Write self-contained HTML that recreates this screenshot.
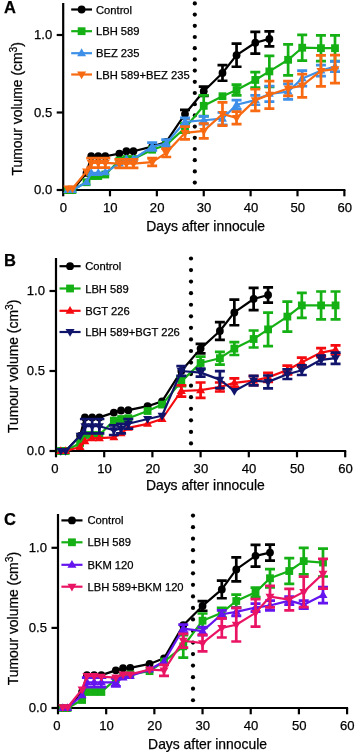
<!DOCTYPE html>
<html><head><meta charset="utf-8"><style>
html,body{margin:0;padding:0;background:#fff;}
svg{display:block;}
text{font-family:"Liberation Sans", sans-serif;}
text{filter:grayscale(1);stroke:#000;stroke-width:0.25px;}
</style></head><body>
<svg width="355" height="752" viewBox="0 0 355 752" font-family='"Liberation Sans", sans-serif'>
<rect width="355" height="752" fill="#fff"/>
<g stroke="#000" stroke-width="2.2" fill="none" stroke-linecap="butt">
<path d="M63.2 3 V190 H345.38"/>
<path d="M56.7 190 H63.2"/>
<path d="M56.7 112.5 H63.2"/>
<path d="M56.7 35 H63.2"/>
<path d="M63.2 190 V196.3"/>
<path d="M109.98 190 V196.3"/>
<path d="M156.86 190 V196.3"/>
<path d="M203.74 190 V196.3"/>
<path d="M250.62 190 V196.3"/>
<path d="M297.5 190 V196.3"/>
<path d="M344.38 190 V196.3"/>
</g>
<g font-size="13.1" fill="#000" text-anchor="end">
<text x="52.2" y="194.1">0.0</text>
<text x="52.2" y="116.6">0.5</text>
<text x="52.2" y="39.1">1.0</text>
</g>
<g font-size="13.1" fill="#000" text-anchor="middle">
<text x="63.5" y="212.3">0</text>
<text x="110.28" y="212.3">10</text>
<text x="157.16" y="212.3">20</text>
<text x="204.04" y="212.3">30</text>
<text x="250.92" y="212.3">40</text>
<text x="297.8" y="212.3">50</text>
<text x="344.68" y="212.3">60</text>
</g>
<text x="146.2" y="230.9" font-size="13.9">Days after innocule</text>
<text transform="translate(21.9 175.4) rotate(-90)" font-size="13.9">Tumour volume (cm<tspan font-size="10.4" dy="-5">3</tspan><tspan dy="5">)</tspan></text>
<text x="4" y="12.5" font-size="16.5" font-weight="bold">A</text>
<g fill="#000"><circle cx="194.8" cy="3.4" r="2.1"/><circle cx="194.8" cy="14.6" r="2.1"/><circle cx="194.8" cy="25.8" r="2.1"/><circle cx="194.8" cy="37" r="2.1"/><circle cx="194.8" cy="48.2" r="2.1"/><circle cx="194.8" cy="59.4" r="2.1"/><circle cx="194.8" cy="70.6" r="2.1"/><circle cx="194.8" cy="81.8" r="2.1"/><circle cx="194.8" cy="93" r="2.1"/><circle cx="194.8" cy="104.2" r="2.1"/><circle cx="194.8" cy="115.4" r="2.1"/><circle cx="194.8" cy="126.6" r="2.1"/><circle cx="194.8" cy="137.8" r="2.1"/><circle cx="194.8" cy="149" r="2.1"/><circle cx="194.8" cy="160.2" r="2.1"/><circle cx="194.8" cy="171.4" r="2.1"/><circle cx="194.8" cy="182.6" r="2.1"/></g>
<g><path d="M67.79 190 L72.48 190 L86.54 172.95 L91.23 156.21 L98.26 156.21 L105.29 156.21 L119.36 153.57 L126.39 151.25 L133.42 151.25 L152.17 146.6 L166.24 141.95 L184.99 114.05 L203.74 91.27 L222.49 72.97 L236.56 55.15 L255.31 42.75 L269.37 38.88" fill="none" stroke="#000000" stroke-width="2.2" stroke-linejoin="round"/><path d="M184.99 109.86 V118.23 M179.99 109.86 H189.99 M179.99 118.23 H189.99 M203.74 86.61 V95.92 M198.74 86.61 H208.74 M198.74 95.92 H208.74 M222.49 65.22 V80.73 M217.49 65.22 H227.49 M217.49 80.73 H227.49 M236.56 43.53 V66.77 M231.56 43.53 H241.56 M231.56 66.77 H241.56 M255.31 31.9 V53.6 M250.31 31.9 H260.31 M250.31 53.6 H260.31 M269.37 31.44 V46.31 M264.37 31.44 H274.37 M264.37 46.31 H274.37" fill="none" stroke="#000000" stroke-width="2.7"/><circle cx="67.79" cy="190" r="3.9" fill="#000000"/><circle cx="72.48" cy="190" r="3.9" fill="#000000"/><circle cx="86.54" cy="172.95" r="3.9" fill="#000000"/><circle cx="91.23" cy="156.21" r="3.9" fill="#000000"/><circle cx="98.26" cy="156.21" r="3.9" fill="#000000"/><circle cx="105.29" cy="156.21" r="3.9" fill="#000000"/><circle cx="119.36" cy="153.57" r="3.9" fill="#000000"/><circle cx="126.39" cy="151.25" r="3.9" fill="#000000"/><circle cx="133.42" cy="151.25" r="3.9" fill="#000000"/><circle cx="152.17" cy="146.6" r="3.9" fill="#000000"/><circle cx="166.24" cy="141.95" r="3.9" fill="#000000"/><circle cx="184.99" cy="114.05" r="3.9" fill="#000000"/><circle cx="203.74" cy="91.27" r="3.9" fill="#000000"/><circle cx="222.49" cy="72.97" r="3.9" fill="#000000"/><circle cx="236.56" cy="55.15" r="3.9" fill="#000000"/><circle cx="255.31" cy="42.75" r="3.9" fill="#000000"/><circle cx="269.37" cy="38.88" r="3.9" fill="#000000"/></g>
<g><path d="M67.79 190 L72.48 190 L86.54 182.25 L91.23 176.05 L98.26 176.05 L105.29 174.5 L119.36 160.55 L126.39 159 L133.42 159 L152.17 149.7 L166.24 145.05 L184.99 128 L203.74 105.83 L222.49 96.23 L236.56 90.02 L255.31 79.95 L269.37 71.42 L288.12 59.8 L302.19 47.71 L320.94 48.17 L335 48.17" fill="none" stroke="#14b014" stroke-width="2.2" stroke-linejoin="round"/><path d="M184.99 123.35 V132.65 M179.99 123.35 H189.99 M179.99 132.65 H189.99 M203.74 95.45 V116.22 M198.74 95.45 H208.74 M198.74 116.22 H208.74 M236.56 84.6 V95.45 M231.56 84.6 H241.56 M231.56 95.45 H241.56 M255.31 72.2 V87.7 M250.31 72.2 H260.31 M250.31 87.7 H260.31 M269.37 55.93 V86.92 M264.37 55.93 H274.37 M264.37 86.92 H274.37 M288.12 44.3 V75.3 M283.12 44.3 H293.12 M283.12 75.3 H293.12 M302.19 34.84 V60.57 M297.19 34.84 H307.19 M297.19 60.57 H307.19 M320.94 35.31 V61.04 M315.94 35.31 H325.94 M315.94 61.04 H325.94 M335 35.31 V61.04 M330 35.31 H340 M330 61.04 H340" fill="none" stroke="#14b014" stroke-width="2.7"/><rect x="63.89" y="186.1" width="7.8" height="7.8" fill="#14b014"/><rect x="68.58" y="186.1" width="7.8" height="7.8" fill="#14b014"/><rect x="82.64" y="178.35" width="7.8" height="7.8" fill="#14b014"/><rect x="87.33" y="172.15" width="7.8" height="7.8" fill="#14b014"/><rect x="94.36" y="172.15" width="7.8" height="7.8" fill="#14b014"/><rect x="101.39" y="170.6" width="7.8" height="7.8" fill="#14b014"/><rect x="115.46" y="156.65" width="7.8" height="7.8" fill="#14b014"/><rect x="122.49" y="155.1" width="7.8" height="7.8" fill="#14b014"/><rect x="129.52" y="155.1" width="7.8" height="7.8" fill="#14b014"/><rect x="148.27" y="145.8" width="7.8" height="7.8" fill="#14b014"/><rect x="162.34" y="141.15" width="7.8" height="7.8" fill="#14b014"/><rect x="181.09" y="124.1" width="7.8" height="7.8" fill="#14b014"/><rect x="199.84" y="101.93" width="7.8" height="7.8" fill="#14b014"/><rect x="218.59" y="92.33" width="7.8" height="7.8" fill="#14b014"/><rect x="232.66" y="86.12" width="7.8" height="7.8" fill="#14b014"/><rect x="251.41" y="76.05" width="7.8" height="7.8" fill="#14b014"/><rect x="265.47" y="67.52" width="7.8" height="7.8" fill="#14b014"/><rect x="284.22" y="55.9" width="7.8" height="7.8" fill="#14b014"/><rect x="298.29" y="43.81" width="7.8" height="7.8" fill="#14b014"/><rect x="317.04" y="44.27" width="7.8" height="7.8" fill="#14b014"/><rect x="331.1" y="44.27" width="7.8" height="7.8" fill="#14b014"/></g>
<g><path d="M67.79 190 L72.48 190 L86.54 182.25 L91.23 172.95 L98.26 172.95 L105.29 172.33 L119.36 163.65 L126.39 159 L133.42 159 L152.17 146.6 L166.24 143.5 L184.99 121.8 L203.74 120.25 L222.49 118.7 L236.56 104.75 L255.31 100.1 L269.37 93.9 L288.12 91.58 L302.19 78.4 L320.94 70.65 L335 66.46" fill="none" stroke="#3d8fe8" stroke-width="2.2" stroke-linejoin="round"/><path d="M152.17 142.72 V150.47 M147.17 142.72 H157.17 M147.17 150.47 H157.17 M166.24 139.62 V147.38 M161.24 139.62 H171.24 M161.24 147.38 H171.24 M184.99 117.92 V125.67 M179.99 117.92 H189.99 M179.99 125.67 H189.99 M203.74 116.38 V124.12 M198.74 116.38 H208.74 M198.74 124.12 H208.74 M222.49 112.5 V124.9 M217.49 112.5 H227.49 M217.49 124.9 H227.49 M236.56 100.1 V109.4 M231.56 100.1 H241.56 M231.56 109.4 H241.56 M255.31 95.45 V104.75 M250.31 95.45 H260.31 M250.31 104.75 H260.31 M269.37 86.15 V101.65 M264.37 86.15 H274.37 M264.37 101.65 H274.37 M288.12 83.82 V99.33 M283.12 83.82 H293.12 M283.12 99.33 H293.12 M302.19 70.65 V86.15 M297.19 70.65 H307.19 M297.19 86.15 H307.19 M320.94 65.22 V76.08 M315.94 65.22 H325.94 M315.94 76.08 H325.94 M335 61.35 V71.58 M330 61.35 H340 M330 71.58 H340" fill="none" stroke="#3d8fe8" stroke-width="2.7"/><polygon points="67.79,185.16 63.29,192.96 72.29,192.96" fill="#3d8fe8"/><polygon points="72.48,185.16 67.98,192.96 76.98,192.96" fill="#3d8fe8"/><polygon points="86.54,177.41 82.04,185.21 91.04,185.21" fill="#3d8fe8"/><polygon points="91.23,168.11 86.73,175.91 95.73,175.91" fill="#3d8fe8"/><polygon points="98.26,168.11 93.76,175.91 102.76,175.91" fill="#3d8fe8"/><polygon points="105.29,167.49 100.79,175.29 109.79,175.29" fill="#3d8fe8"/><polygon points="119.36,158.81 114.86,166.61 123.86,166.61" fill="#3d8fe8"/><polygon points="126.39,154.16 121.89,161.96 130.89,161.96" fill="#3d8fe8"/><polygon points="133.42,154.16 128.92,161.96 137.92,161.96" fill="#3d8fe8"/><polygon points="152.17,141.76 147.67,149.56 156.67,149.56" fill="#3d8fe8"/><polygon points="166.24,138.66 161.74,146.46 170.74,146.46" fill="#3d8fe8"/><polygon points="184.99,116.96 180.49,124.76 189.49,124.76" fill="#3d8fe8"/><polygon points="203.74,115.41 199.24,123.21 208.24,123.21" fill="#3d8fe8"/><polygon points="222.49,113.86 217.99,121.66 226.99,121.66" fill="#3d8fe8"/><polygon points="236.56,99.91 232.06,107.71 241.06,107.71" fill="#3d8fe8"/><polygon points="255.31,95.26 250.81,103.06 259.81,103.06" fill="#3d8fe8"/><polygon points="269.37,89.06 264.87,96.86 273.87,96.86" fill="#3d8fe8"/><polygon points="288.12,86.74 283.62,94.54 292.62,94.54" fill="#3d8fe8"/><polygon points="302.19,73.56 297.69,81.36 306.69,81.36" fill="#3d8fe8"/><polygon points="320.94,65.81 316.44,73.61 325.44,73.61" fill="#3d8fe8"/><polygon points="335,61.63 330.5,69.43 339.5,69.43" fill="#3d8fe8"/></g>
<g><path d="M67.79 188.45 L72.48 188.45 L86.54 171.4 L91.23 162.88 L98.26 162.88 L105.29 162.88 L119.36 163.65 L126.39 163.65 L133.42 163.65 L152.17 162.1 L166.24 152.8 L184.99 132.96 L203.74 130.94 L222.49 114.05 L236.56 117.92 L255.31 100.1 L269.37 94.83 L288.12 88.47 L302.19 85.68 L320.94 70.96 L335 69.1" fill="none" stroke="#f76a12" stroke-width="2.2" stroke-linejoin="round"/><path d="M91.23 158.22 V167.53 M86.23 158.22 H96.23 M86.23 167.53 H96.23 M98.26 158.22 V167.53 M93.26 158.22 H103.26 M93.26 167.53 H103.26 M105.29 158.22 V167.53 M100.29 158.22 H110.29 M100.29 167.53 H110.29 M119.36 159.47 V167.84 M114.36 159.47 H124.36 M114.36 167.84 H124.36 M126.39 159.47 V167.84 M121.39 159.47 H131.39 M121.39 167.84 H131.39 M133.42 159.47 V167.84 M128.42 159.47 H138.42 M128.42 167.84 H138.42 M152.17 158.22 V165.97 M147.17 158.22 H157.17 M147.17 165.97 H157.17 M166.24 148.62 V156.99 M161.24 148.62 H171.24 M161.24 156.99 H171.24 M184.99 126.61 V139.31 M179.99 126.61 H189.99 M179.99 139.31 H189.99 M203.74 123.5 V138.38 M198.74 123.5 H208.74 M198.74 138.38 H208.74 M222.49 102.43 V125.67 M217.49 102.43 H227.49 M217.49 125.67 H227.49 M236.56 111.72 V124.12 M231.56 111.72 H241.56 M231.56 124.12 H241.56 M255.31 89.25 V110.95 M250.31 89.25 H260.31 M250.31 110.95 H260.31 M269.37 81.04 V108.62 M264.37 81.04 H274.37 M264.37 108.62 H274.37 M288.12 81.03 V95.92 M283.12 81.03 H293.12 M283.12 95.92 H293.12 M302.19 74.06 V97.31 M297.19 74.06 H307.19 M297.19 97.31 H307.19 M320.94 55.46 V86.46 M315.94 55.46 H325.94 M315.94 86.46 H325.94 M335 55.15 V83.05 M330 55.15 H340 M330 83.05 H340" fill="none" stroke="#f76a12" stroke-width="2.7"/><polygon points="67.79,193.29 63.29,185.49 72.29,185.49" fill="#f76a12"/><polygon points="72.48,193.29 67.98,185.49 76.98,185.49" fill="#f76a12"/><polygon points="86.54,176.24 82.04,168.44 91.04,168.44" fill="#f76a12"/><polygon points="91.23,167.71 86.73,159.91 95.73,159.91" fill="#f76a12"/><polygon points="98.26,167.71 93.76,159.91 102.76,159.91" fill="#f76a12"/><polygon points="105.29,167.71 100.79,159.91 109.79,159.91" fill="#f76a12"/><polygon points="119.36,168.49 114.86,160.69 123.86,160.69" fill="#f76a12"/><polygon points="126.39,168.49 121.89,160.69 130.89,160.69" fill="#f76a12"/><polygon points="133.42,168.49 128.92,160.69 137.92,160.69" fill="#f76a12"/><polygon points="152.17,166.94 147.67,159.14 156.67,159.14" fill="#f76a12"/><polygon points="166.24,157.64 161.74,149.84 170.74,149.84" fill="#f76a12"/><polygon points="184.99,137.8 180.49,130 189.49,130" fill="#f76a12"/><polygon points="203.74,135.78 199.24,127.98 208.24,127.98" fill="#f76a12"/><polygon points="222.49,118.89 217.99,111.09 226.99,111.09" fill="#f76a12"/><polygon points="236.56,122.76 232.06,114.96 241.06,114.96" fill="#f76a12"/><polygon points="255.31,104.94 250.81,97.14 259.81,97.14" fill="#f76a12"/><polygon points="269.37,99.67 264.87,91.87 273.87,91.87" fill="#f76a12"/><polygon points="288.12,93.31 283.62,85.51 292.62,85.51" fill="#f76a12"/><polygon points="302.19,90.52 297.69,82.72 306.69,82.72" fill="#f76a12"/><polygon points="320.94,75.8 316.44,68 325.44,68" fill="#f76a12"/><polygon points="335,73.94 330.5,66.14 339.5,66.14" fill="#f76a12"/></g>
<path d="M71.2 9.5 H92" stroke="#000000" stroke-width="2.2"/>
<circle cx="81.6" cy="9.5" r="3.9" fill="#000000"/>
<text x="96" y="13.5" font-size="11.2">Control</text>
<path d="M71.2 31.2 H92" stroke="#14b014" stroke-width="2.2"/>
<rect x="77.7" y="27.3" width="7.8" height="7.8" fill="#14b014"/>
<text x="96" y="35.2" font-size="11.2">LBH 589</text>
<path d="M71.2 53.2 H92" stroke="#3d8fe8" stroke-width="2.2"/>
<polygon points="81.6,48.36 77.1,56.16 86.1,56.16" fill="#3d8fe8"/>
<text x="96" y="57.2" font-size="11.2">BEZ 235</text>
<path d="M71.2 74.5 H92" stroke="#f76a12" stroke-width="2.2"/>
<polygon points="81.6,79.34 77.1,71.54 86.1,71.54" fill="#f76a12"/>
<text x="96" y="78.5" font-size="11.2">LBH 589+BEZ 235</text>
<g stroke="#000" stroke-width="2.2" fill="none" stroke-linecap="butt">
<path d="M56 258 V451 H346.2"/>
<path d="M49.5 451 H56"/>
<path d="M49.5 371 H56"/>
<path d="M49.5 291 H56"/>
<path d="M56 451 V457.3"/>
<path d="M104.2 451 V457.3"/>
<path d="M152.4 451 V457.3"/>
<path d="M200.6 451 V457.3"/>
<path d="M248.8 451 V457.3"/>
<path d="M297 451 V457.3"/>
<path d="M345.2 451 V457.3"/>
</g>
<g font-size="13.1" fill="#000" text-anchor="end">
<text x="45" y="455.1">0.0</text>
<text x="45" y="375.1">0.5</text>
<text x="45" y="295.1">1.0</text>
</g>
<g font-size="13.1" fill="#000" text-anchor="middle">
<text x="54.9" y="473.3">0</text>
<text x="104.5" y="473.3">10</text>
<text x="152.7" y="473.3">20</text>
<text x="200.9" y="473.3">30</text>
<text x="249.1" y="473.3">40</text>
<text x="297.3" y="473.3">50</text>
<text x="345.5" y="473.3">60</text>
</g>
<text x="145.9" y="489.8" font-size="13.9">Days after innocule</text>
<text transform="translate(18.3 433) rotate(-90)" font-size="13.9">Tumour volume (cm<tspan font-size="10.4" dy="-5">3</tspan><tspan dy="5">)</tspan></text>
<text x="4" y="266.3" font-size="16.5" font-weight="bold">B</text>
<g fill="#000"><circle cx="191" cy="258.5" r="2.1"/><circle cx="191" cy="270.06" r="2.1"/><circle cx="191" cy="281.62" r="2.1"/><circle cx="191" cy="293.18" r="2.1"/><circle cx="191" cy="304.74" r="2.1"/><circle cx="191" cy="316.3" r="2.1"/><circle cx="191" cy="327.86" r="2.1"/><circle cx="191" cy="339.42" r="2.1"/><circle cx="191" cy="350.98" r="2.1"/><circle cx="191" cy="362.54" r="2.1"/><circle cx="191" cy="374.1" r="2.1"/><circle cx="191" cy="385.66" r="2.1"/><circle cx="191" cy="397.22" r="2.1"/><circle cx="191" cy="408.78" r="2.1"/><circle cx="191" cy="420.34" r="2.1"/><circle cx="191" cy="431.9" r="2.1"/><circle cx="191" cy="443.46" r="2.1"/></g>
<g><path d="M60.82 451 L65.64 451 L80.1 435.8 L84.92 417.4 L92.15 417.4 L99.38 417.4 L113.84 412.6 L121.07 410.52 L128.3 410.2 L147.58 406.2 L162.04 401.4 L181.32 371 L200.6 348.6 L219.88 331 L234.34 312.44 L253.62 299 L268.08 295" fill="none" stroke="#000000" stroke-width="2.2" stroke-linejoin="round"/><path d="M200.6 343.8 V353.4 M195.6 343.8 H205.6 M195.6 353.4 H205.6 M219.88 322.2 V339.8 M214.88 322.2 H224.88 M214.88 339.8 H224.88 M234.34 299.64 V325.24 M229.34 299.64 H239.34 M229.34 325.24 H239.34 M253.62 287.8 V310.2 M248.62 287.8 H258.62 M248.62 310.2 H258.62 M268.08 287.32 V302.68 M263.08 287.32 H273.08 M263.08 302.68 H273.08" fill="none" stroke="#000000" stroke-width="2.7"/><circle cx="60.82" cy="451" r="3.9" fill="#000000"/><circle cx="65.64" cy="451" r="3.9" fill="#000000"/><circle cx="80.1" cy="435.8" r="3.9" fill="#000000"/><circle cx="84.92" cy="417.4" r="3.9" fill="#000000"/><circle cx="92.15" cy="417.4" r="3.9" fill="#000000"/><circle cx="99.38" cy="417.4" r="3.9" fill="#000000"/><circle cx="113.84" cy="412.6" r="3.9" fill="#000000"/><circle cx="121.07" cy="410.52" r="3.9" fill="#000000"/><circle cx="128.3" cy="410.2" r="3.9" fill="#000000"/><circle cx="147.58" cy="406.2" r="3.9" fill="#000000"/><circle cx="162.04" cy="401.4" r="3.9" fill="#000000"/><circle cx="181.32" cy="371" r="3.9" fill="#000000"/><circle cx="200.6" cy="348.6" r="3.9" fill="#000000"/><circle cx="219.88" cy="331" r="3.9" fill="#000000"/><circle cx="234.34" cy="312.44" r="3.9" fill="#000000"/><circle cx="253.62" cy="299" r="3.9" fill="#000000"/><circle cx="268.08" cy="295" r="3.9" fill="#000000"/></g>
<g><path d="M60.82 451 L65.64 451 L80.1 443 L84.92 435 L92.15 435 L99.38 435 L113.84 420.6 L121.07 419 L128.3 418.2 L147.58 411 L162.04 404.6 L181.32 381.4 L200.6 363 L219.88 358.2 L234.34 348.6 L253.62 339 L268.08 329.4 L287.36 316.6 L301.82 305.4 L321.1 305.4 L335.56 305.4" fill="none" stroke="#14b014" stroke-width="2.2" stroke-linejoin="round"/><path d="M181.32 376.6 V386.2 M176.32 376.6 H186.32 M176.32 386.2 H186.32 M200.6 356.6 V369.4 M195.6 356.6 H205.6 M195.6 369.4 H205.6 M219.88 351.8 V364.6 M214.88 351.8 H224.88 M214.88 364.6 H224.88 M234.34 342.2 V355 M229.34 342.2 H239.34 M229.34 355 H239.34 M253.62 330.52 V347.48 M248.62 330.52 H258.62 M248.62 347.48 H258.62 M268.08 312.6 V346.2 M263.08 312.6 H273.08 M263.08 346.2 H273.08 M287.36 301.56 V331.64 M282.36 301.56 H292.36 M282.36 331.64 H292.36 M301.82 292.92 V317.88 M296.82 292.92 H306.82 M296.82 317.88 H306.82 M321.1 291.48 V319.32 M316.1 291.48 H326.1 M316.1 319.32 H326.1 M335.56 291.48 V319.32 M330.56 291.48 H340.56 M330.56 319.32 H340.56" fill="none" stroke="#14b014" stroke-width="2.7"/><rect x="56.92" y="447.1" width="7.8" height="7.8" fill="#14b014"/><rect x="61.74" y="447.1" width="7.8" height="7.8" fill="#14b014"/><rect x="76.2" y="439.1" width="7.8" height="7.8" fill="#14b014"/><rect x="81.02" y="431.1" width="7.8" height="7.8" fill="#14b014"/><rect x="88.25" y="431.1" width="7.8" height="7.8" fill="#14b014"/><rect x="95.48" y="431.1" width="7.8" height="7.8" fill="#14b014"/><rect x="109.94" y="416.7" width="7.8" height="7.8" fill="#14b014"/><rect x="117.17" y="415.1" width="7.8" height="7.8" fill="#14b014"/><rect x="124.4" y="414.3" width="7.8" height="7.8" fill="#14b014"/><rect x="143.68" y="407.1" width="7.8" height="7.8" fill="#14b014"/><rect x="158.14" y="400.7" width="7.8" height="7.8" fill="#14b014"/><rect x="177.42" y="377.5" width="7.8" height="7.8" fill="#14b014"/><rect x="196.7" y="359.1" width="7.8" height="7.8" fill="#14b014"/><rect x="215.98" y="354.3" width="7.8" height="7.8" fill="#14b014"/><rect x="230.44" y="344.7" width="7.8" height="7.8" fill="#14b014"/><rect x="249.72" y="335.1" width="7.8" height="7.8" fill="#14b014"/><rect x="264.18" y="325.5" width="7.8" height="7.8" fill="#14b014"/><rect x="283.46" y="312.7" width="7.8" height="7.8" fill="#14b014"/><rect x="297.92" y="301.5" width="7.8" height="7.8" fill="#14b014"/><rect x="317.2" y="301.5" width="7.8" height="7.8" fill="#14b014"/><rect x="331.66" y="301.5" width="7.8" height="7.8" fill="#14b014"/></g>
<g><path d="M60.82 451 L65.64 451 L80.1 447 L84.92 441.4 L92.15 438.2 L99.38 438.2 L113.84 437.4 L121.07 433.4 L128.3 427.8 L147.58 423.8 L162.04 419 L181.32 391 L200.6 390.2 L219.88 387 L234.34 382.84 L253.62 380.6 L268.08 377.4 L287.36 370.04 L301.82 362.2 L321.1 352.6 L335.56 349.88" fill="none" stroke="#f50a0f" stroke-width="2.2" stroke-linejoin="round"/><path d="M181.32 385.4 V396.6 M176.32 385.4 H186.32 M176.32 396.6 H186.32 M200.6 382.52 V397.88 M195.6 382.52 H205.6 M195.6 397.88 H205.6 M219.88 382.52 V391.48 M214.88 382.52 H224.88 M214.88 391.48 H224.88 M234.34 378.36 V387.32 M229.34 378.36 H239.34 M229.34 387.32 H239.34 M253.62 376.12 V385.08 M248.62 376.12 H258.62 M248.62 385.08 H258.62 M268.08 372.92 V381.88 M263.08 372.92 H273.08 M263.08 381.88 H273.08 M287.36 365.56 V374.52 M282.36 365.56 H292.36 M282.36 374.52 H292.36 M301.82 357.72 V366.68 M296.82 357.72 H306.82 M296.82 366.68 H306.82 M321.1 348.12 V357.08 M316.1 348.12 H326.1 M316.1 357.08 H326.1 M335.56 345.4 V354.36 M330.56 345.4 H340.56 M330.56 354.36 H340.56" fill="none" stroke="#f50a0f" stroke-width="2.7"/><polygon points="60.82,446.16 56.32,453.96 65.32,453.96" fill="#f50a0f"/><polygon points="65.64,446.16 61.14,453.96 70.14,453.96" fill="#f50a0f"/><polygon points="80.1,442.16 75.6,449.96 84.6,449.96" fill="#f50a0f"/><polygon points="84.92,436.56 80.42,444.36 89.42,444.36" fill="#f50a0f"/><polygon points="92.15,433.36 87.65,441.16 96.65,441.16" fill="#f50a0f"/><polygon points="99.38,433.36 94.88,441.16 103.88,441.16" fill="#f50a0f"/><polygon points="113.84,432.56 109.34,440.36 118.34,440.36" fill="#f50a0f"/><polygon points="121.07,428.56 116.57,436.36 125.57,436.36" fill="#f50a0f"/><polygon points="128.3,422.96 123.8,430.76 132.8,430.76" fill="#f50a0f"/><polygon points="147.58,418.96 143.08,426.76 152.08,426.76" fill="#f50a0f"/><polygon points="162.04,414.16 157.54,421.96 166.54,421.96" fill="#f50a0f"/><polygon points="181.32,386.16 176.82,393.96 185.82,393.96" fill="#f50a0f"/><polygon points="200.6,385.36 196.1,393.16 205.1,393.16" fill="#f50a0f"/><polygon points="219.88,382.16 215.38,389.96 224.38,389.96" fill="#f50a0f"/><polygon points="234.34,378 229.84,385.8 238.84,385.8" fill="#f50a0f"/><polygon points="253.62,375.76 249.12,383.56 258.12,383.56" fill="#f50a0f"/><polygon points="268.08,372.56 263.58,380.36 272.58,380.36" fill="#f50a0f"/><polygon points="287.36,365.2 282.86,373 291.86,373" fill="#f50a0f"/><polygon points="301.82,357.36 297.32,365.16 306.32,365.16" fill="#f50a0f"/><polygon points="321.1,347.76 316.6,355.56 325.6,355.56" fill="#f50a0f"/><polygon points="335.56,345.04 331.06,352.84 340.06,352.84" fill="#f50a0f"/></g>
<g><path d="M60.82 451 L65.64 451 L80.1 435.8 L84.92 426.2 L92.15 426.2 L99.38 426.2 L113.84 430.2 L121.07 428.6 L128.3 423.8 L147.58 419 L162.04 415.8 L181.32 371 L200.6 372.6 L219.88 379.64 L234.34 391 L253.62 380.6 L268.08 381.88 L287.36 374.2 L301.82 370.2 L321.1 359.8 L335.56 358.2" fill="none" stroke="#10146b" stroke-width="2.2" stroke-linejoin="round"/><path d="M84.92 419 V433.4 M79.92 419 H89.92 M79.92 433.4 H89.92 M92.15 419 V433.4 M87.15 419 H97.15 M87.15 433.4 H97.15 M99.38 419 V433.4 M94.38 419 H104.38 M94.38 433.4 H104.38 M113.84 425.4 V435 M108.84 425.4 H118.84 M108.84 435 H118.84 M121.07 423.8 V433.4 M116.07 423.8 H126.07 M116.07 433.4 H126.07 M128.3 419 V428.6 M123.3 419 H133.3 M123.3 428.6 H133.3 M181.32 366.2 V375.8 M176.32 366.2 H186.32 M176.32 375.8 H186.32 M200.6 368.6 V376.6 M195.6 368.6 H205.6 M195.6 376.6 H205.6 M219.88 371.16 V388.12 M214.88 371.16 H224.88 M214.88 388.12 H224.88 M253.62 375.8 V385.4 M248.62 375.8 H258.62 M248.62 385.4 H258.62 M268.08 375.48 V388.28 M263.08 375.48 H273.08 M263.08 388.28 H273.08 M287.36 369.4 V379 M282.36 369.4 H292.36 M282.36 379 H292.36 M301.82 365.4 V375 M296.82 365.4 H306.82 M296.82 375 H306.82 M321.1 355.48 V364.12 M316.1 355.48 H326.1 M316.1 364.12 H326.1 M335.56 352.6 V363.8 M330.56 352.6 H340.56 M330.56 363.8 H340.56" fill="none" stroke="#10146b" stroke-width="2.7"/><polygon points="60.82,455.84 56.32,448.04 65.32,448.04" fill="#10146b"/><polygon points="65.64,455.84 61.14,448.04 70.14,448.04" fill="#10146b"/><polygon points="80.1,440.64 75.6,432.84 84.6,432.84" fill="#10146b"/><polygon points="84.92,431.04 80.42,423.24 89.42,423.24" fill="#10146b"/><polygon points="92.15,431.04 87.65,423.24 96.65,423.24" fill="#10146b"/><polygon points="99.38,431.04 94.88,423.24 103.88,423.24" fill="#10146b"/><polygon points="113.84,435.04 109.34,427.24 118.34,427.24" fill="#10146b"/><polygon points="121.07,433.44 116.57,425.64 125.57,425.64" fill="#10146b"/><polygon points="128.3,428.64 123.8,420.84 132.8,420.84" fill="#10146b"/><polygon points="147.58,423.84 143.08,416.04 152.08,416.04" fill="#10146b"/><polygon points="162.04,420.64 157.54,412.84 166.54,412.84" fill="#10146b"/><polygon points="181.32,375.84 176.82,368.04 185.82,368.04" fill="#10146b"/><polygon points="200.6,377.44 196.1,369.64 205.1,369.64" fill="#10146b"/><polygon points="219.88,384.48 215.38,376.68 224.38,376.68" fill="#10146b"/><polygon points="234.34,395.84 229.84,388.04 238.84,388.04" fill="#10146b"/><polygon points="253.62,385.44 249.12,377.64 258.12,377.64" fill="#10146b"/><polygon points="268.08,386.72 263.58,378.92 272.58,378.92" fill="#10146b"/><polygon points="287.36,379.04 282.86,371.24 291.86,371.24" fill="#10146b"/><polygon points="301.82,375.04 297.32,367.24 306.32,367.24" fill="#10146b"/><polygon points="321.1,364.64 316.6,356.84 325.6,356.84" fill="#10146b"/><polygon points="335.56,363.04 331.06,355.24 340.06,355.24" fill="#10146b"/></g>
<path d="M59.5 266.2 H80.6" stroke="#000000" stroke-width="2.2"/>
<circle cx="70.05" cy="266.2" r="3.9" fill="#000000"/>
<text x="85.2" y="270.2" font-size="11.2">Control</text>
<path d="M59.5 288.5 H80.6" stroke="#14b014" stroke-width="2.2"/>
<rect x="66.15" y="284.6" width="7.8" height="7.8" fill="#14b014"/>
<text x="85.2" y="292.5" font-size="11.2">LBH 589</text>
<path d="M59.5 310.8 H80.6" stroke="#f50a0f" stroke-width="2.2"/>
<polygon points="70.05,305.96 65.55,313.76 74.55,313.76" fill="#f50a0f"/>
<text x="85.2" y="314.8" font-size="11.2">BGT 226</text>
<path d="M59.5 332 H80.6" stroke="#10146b" stroke-width="2.2"/>
<polygon points="70.05,336.84 65.55,329.04 74.55,329.04" fill="#10146b"/>
<text x="85.2" y="336" font-size="11.2">LBH 589+BGT 226</text>
<g stroke="#000" stroke-width="2.2" fill="none" stroke-linecap="butt">
<path d="M58 514 V708 H348.08"/>
<path d="M51.5 708 H58"/>
<path d="M51.5 627.9 H58"/>
<path d="M51.5 547.8 H58"/>
<path d="M58 708 V714.3"/>
<path d="M106.18 708 V714.3"/>
<path d="M154.36 708 V714.3"/>
<path d="M202.54 708 V714.3"/>
<path d="M250.72 708 V714.3"/>
<path d="M298.9 708 V714.3"/>
<path d="M347.08 708 V714.3"/>
</g>
<g font-size="13.1" fill="#000" text-anchor="end">
<text x="47" y="712.1">0.0</text>
<text x="47" y="632">0.5</text>
<text x="47" y="551.9">1.0</text>
</g>
<g font-size="13.1" fill="#000" text-anchor="middle">
<text x="56.9" y="730.3">0</text>
<text x="106.48" y="730.3">10</text>
<text x="154.66" y="730.3">20</text>
<text x="202.84" y="730.3">30</text>
<text x="251.02" y="730.3">40</text>
<text x="299.2" y="730.3">50</text>
<text x="347.38" y="730.3">60</text>
</g>
<text x="148.1" y="748.8" font-size="13.9">Days after innocule</text>
<text transform="translate(18.3 685.3) rotate(-90)" font-size="13.9">Tumour volume (cm<tspan font-size="10.4" dy="-5">3</tspan><tspan dy="5">)</tspan></text>
<text x="4" y="524.8" font-size="16.5" font-weight="bold">C</text>
<g fill="#000"><circle cx="193" cy="515.6" r="2.1"/><circle cx="193" cy="527.14" r="2.1"/><circle cx="193" cy="538.68" r="2.1"/><circle cx="193" cy="550.22" r="2.1"/><circle cx="193" cy="561.76" r="2.1"/><circle cx="193" cy="573.3" r="2.1"/><circle cx="193" cy="584.84" r="2.1"/><circle cx="193" cy="596.38" r="2.1"/><circle cx="193" cy="607.92" r="2.1"/><circle cx="193" cy="619.46" r="2.1"/><circle cx="193" cy="631" r="2.1"/><circle cx="193" cy="642.54" r="2.1"/><circle cx="193" cy="654.08" r="2.1"/><circle cx="193" cy="665.62" r="2.1"/><circle cx="193" cy="677.16" r="2.1"/><circle cx="193" cy="688.7" r="2.1"/><circle cx="193" cy="700.24" r="2.1"/></g>
<g><path d="M62.82 708 L67.64 708 L82.09 691.98 L86.91 675.16 L94.13 675.16 L101.36 675.16 L115.82 670.35 L123.04 668.27 L130.27 667.95 L149.54 663.95 L164 658.34 L183.27 625.18 L202.54 605.95 L221.81 589.45 L236.27 569.43 L255.54 555.81 L269.99 552.61" fill="none" stroke="#000000" stroke-width="2.2" stroke-linejoin="round"/><path d="M202.54 601.15 V610.76 M197.54 601.15 H207.54 M197.54 610.76 H207.54 M221.81 580.64 V598.26 M216.81 580.64 H226.81 M216.81 598.26 H226.81 M236.27 557.41 V581.44 M231.27 557.41 H241.27 M231.27 581.44 H241.27 M255.54 544.92 V566.7 M250.54 544.92 H260.54 M250.54 566.7 H260.54 M269.99 544.6 V560.62 M264.99 544.6 H274.99 M264.99 560.62 H274.99" fill="none" stroke="#000000" stroke-width="2.7"/><circle cx="62.82" cy="708" r="3.9" fill="#000000"/><circle cx="67.64" cy="708" r="3.9" fill="#000000"/><circle cx="82.09" cy="691.98" r="3.9" fill="#000000"/><circle cx="86.91" cy="675.16" r="3.9" fill="#000000"/><circle cx="94.13" cy="675.16" r="3.9" fill="#000000"/><circle cx="101.36" cy="675.16" r="3.9" fill="#000000"/><circle cx="115.82" cy="670.35" r="3.9" fill="#000000"/><circle cx="123.04" cy="668.27" r="3.9" fill="#000000"/><circle cx="130.27" cy="667.95" r="3.9" fill="#000000"/><circle cx="149.54" cy="663.95" r="3.9" fill="#000000"/><circle cx="164" cy="658.34" r="3.9" fill="#000000"/><circle cx="183.27" cy="625.18" r="3.9" fill="#000000"/><circle cx="202.54" cy="605.95" r="3.9" fill="#000000"/><circle cx="221.81" cy="589.45" r="3.9" fill="#000000"/><circle cx="236.27" cy="569.43" r="3.9" fill="#000000"/><circle cx="255.54" cy="555.81" r="3.9" fill="#000000"/><circle cx="269.99" cy="552.61" r="3.9" fill="#000000"/></g>
<g><path d="M62.82 708 L67.64 708 L82.09 699.99 L86.91 691.98 L94.13 691.98 L101.36 691.98 L115.82 679.16 L123.04 675.96 L130.27 674.36 L149.54 671.15 L164 661.54 L183.27 646.32 L202.54 620.69 L221.81 612.68 L236.27 600.99 L255.54 592.34 L269.99 578.24 L289.26 571.03 L303.72 561.1 L322.99 562.54" fill="none" stroke="#14b014" stroke-width="2.2" stroke-linejoin="round"/><path d="M183.27 635.11 V657.54 M178.27 635.11 H188.27 M178.27 657.54 H188.27 M202.54 613.48 V627.9 M197.54 613.48 H207.54 M197.54 627.9 H207.54 M221.81 607.88 V617.49 M216.81 607.88 H226.81 M216.81 617.49 H226.81 M236.27 594.58 V607.39 M231.27 594.58 H241.27 M231.27 607.39 H241.27 M255.54 587.53 V597.14 M250.54 587.53 H260.54 M250.54 597.14 H260.54 M269.99 569.11 V587.37 M264.99 569.11 H274.99 M264.99 587.37 H274.99 M289.26 558.21 V583.85 M284.26 558.21 H294.26 M284.26 583.85 H294.26 M303.72 547.8 V574.39 M298.72 547.8 H308.72 M298.72 574.39 H308.72 M322.99 548.6 V576.48 M317.99 548.6 H327.99 M317.99 576.48 H327.99" fill="none" stroke="#14b014" stroke-width="2.7"/><rect x="58.92" y="704.1" width="7.8" height="7.8" fill="#14b014"/><rect x="63.74" y="704.1" width="7.8" height="7.8" fill="#14b014"/><rect x="78.19" y="696.09" width="7.8" height="7.8" fill="#14b014"/><rect x="83.01" y="688.08" width="7.8" height="7.8" fill="#14b014"/><rect x="90.23" y="688.08" width="7.8" height="7.8" fill="#14b014"/><rect x="97.46" y="688.08" width="7.8" height="7.8" fill="#14b014"/><rect x="111.92" y="675.26" width="7.8" height="7.8" fill="#14b014"/><rect x="119.14" y="672.06" width="7.8" height="7.8" fill="#14b014"/><rect x="126.37" y="670.46" width="7.8" height="7.8" fill="#14b014"/><rect x="145.64" y="667.25" width="7.8" height="7.8" fill="#14b014"/><rect x="160.1" y="657.64" width="7.8" height="7.8" fill="#14b014"/><rect x="179.37" y="642.42" width="7.8" height="7.8" fill="#14b014"/><rect x="198.64" y="616.79" width="7.8" height="7.8" fill="#14b014"/><rect x="217.91" y="608.78" width="7.8" height="7.8" fill="#14b014"/><rect x="232.37" y="597.09" width="7.8" height="7.8" fill="#14b014"/><rect x="251.64" y="588.44" width="7.8" height="7.8" fill="#14b014"/><rect x="266.09" y="574.34" width="7.8" height="7.8" fill="#14b014"/><rect x="285.36" y="567.13" width="7.8" height="7.8" fill="#14b014"/><rect x="299.82" y="557.2" width="7.8" height="7.8" fill="#14b014"/><rect x="319.09" y="558.64" width="7.8" height="7.8" fill="#14b014"/></g>
<g><path d="M62.82 708 L67.64 708 L82.09 695.18 L86.91 682.37 L94.13 682.37 L101.36 682.37 L115.82 682.37 L123.04 677.56 L130.27 675.96 L149.54 669.55 L164 661.54 L183.27 628.54 L202.54 631.1 L221.81 614.28 L236.27 611.88 L255.54 607.55 L269.99 605.47 L289.26 600.67 L303.72 604.67 L322.99 595.06" fill="none" stroke="#6414ee" stroke-width="2.2" stroke-linejoin="round"/><path d="M86.91 677.56 V687.17 M81.91 677.56 H91.91 M81.91 687.17 H91.91 M94.13 677.56 V687.17 M89.13 677.56 H99.13 M89.13 687.17 H99.13 M101.36 677.56 V687.17 M96.36 677.56 H106.36 M96.36 687.17 H106.36 M115.82 678.36 V686.37 M110.82 678.36 H120.82 M110.82 686.37 H120.82 M183.27 624.54 V632.55 M178.27 624.54 H188.27 M178.27 632.55 H188.27 M202.54 627.1 V635.11 M197.54 627.1 H207.54 M197.54 635.11 H207.54 M221.81 610.28 V618.29 M216.81 610.28 H226.81 M216.81 618.29 H226.81 M236.27 607.88 V615.88 M231.27 607.88 H241.27 M231.27 615.88 H241.27 M255.54 603.55 V611.56 M250.54 603.55 H260.54 M250.54 611.56 H260.54 M269.99 600.67 V610.28 M264.99 600.67 H274.99 M264.99 610.28 H274.99 M289.26 596.66 V604.67 M284.26 596.66 H294.26 M284.26 604.67 H294.26 M303.72 600.67 V608.68 M298.72 600.67 H308.72 M298.72 608.68 H308.72 M322.99 587.05 V603.07 M317.99 587.05 H327.99 M317.99 603.07 H327.99" fill="none" stroke="#6414ee" stroke-width="2.7"/><polygon points="62.82,703.16 58.32,710.96 67.32,710.96" fill="#6414ee"/><polygon points="67.64,703.16 63.14,710.96 72.14,710.96" fill="#6414ee"/><polygon points="82.09,690.35 77.59,698.15 86.59,698.15" fill="#6414ee"/><polygon points="86.91,677.53 82.41,685.33 91.41,685.33" fill="#6414ee"/><polygon points="94.13,677.53 89.63,685.33 98.63,685.33" fill="#6414ee"/><polygon points="101.36,677.53 96.86,685.33 105.86,685.33" fill="#6414ee"/><polygon points="115.82,677.53 111.32,685.33 120.32,685.33" fill="#6414ee"/><polygon points="123.04,672.73 118.54,680.53 127.54,680.53" fill="#6414ee"/><polygon points="130.27,671.12 125.77,678.92 134.77,678.92" fill="#6414ee"/><polygon points="149.54,664.72 145.04,672.52 154.04,672.52" fill="#6414ee"/><polygon points="164,656.71 159.5,664.51 168.5,664.51" fill="#6414ee"/><polygon points="183.27,623.7 178.77,631.5 187.77,631.5" fill="#6414ee"/><polygon points="202.54,626.27 198.04,634.07 207.04,634.07" fill="#6414ee"/><polygon points="221.81,609.45 217.31,617.25 226.31,617.25" fill="#6414ee"/><polygon points="236.27,607.04 231.77,614.84 240.77,614.84" fill="#6414ee"/><polygon points="255.54,602.72 251.04,610.52 260.04,610.52" fill="#6414ee"/><polygon points="269.99,600.64 265.49,608.44 274.49,608.44" fill="#6414ee"/><polygon points="289.26,595.83 284.76,603.63 293.76,603.63" fill="#6414ee"/><polygon points="303.72,599.84 299.22,607.64 308.22,607.64" fill="#6414ee"/><polygon points="322.99,590.22 318.49,598.02 327.49,598.02" fill="#6414ee"/></g>
<g><path d="M62.82 707.2 L67.64 707.2 L82.09 689.42 L86.91 675.96 L94.13 675.96 L101.36 676.6 L115.82 677.56 L123.04 674.36 L130.27 674.36 L149.54 669.55 L164 670.35 L183.27 640.72 L202.54 643.12 L221.81 627.9 L236.27 624.7 L255.54 612.84 L269.99 596.66 L289.26 599.54 L303.72 591.86 L322.99 573.75" fill="none" stroke="#ea1464" stroke-width="2.2" stroke-linejoin="round"/><path d="M164 664.91 V675.8 M159 664.91 H169 M159 675.8 H169 M183.27 633.83 V647.6 M178.27 633.83 H188.27 M178.27 647.6 H188.27 M202.54 634.79 V651.45 M197.54 634.79 H207.54 M197.54 651.45 H207.54 M221.81 618.29 V637.51 M216.81 618.29 H226.81 M216.81 637.51 H226.81 M236.27 607.88 V641.52 M231.27 607.88 H241.27 M231.27 641.52 H241.27 M255.54 599.06 V626.62 M250.54 599.06 H260.54 M250.54 626.62 H260.54 M269.99 585.93 V607.39 M264.99 585.93 H274.99 M264.99 607.39 H274.99 M289.26 588.81 V610.28 M284.26 588.81 H294.26 M284.26 610.28 H294.26 M303.72 576.64 V607.07 M298.72 576.64 H308.72 M298.72 607.07 H308.72 M322.99 558.85 V588.65 M317.99 558.85 H327.99 M317.99 588.65 H327.99" fill="none" stroke="#ea1464" stroke-width="2.7"/><polygon points="62.82,712.03 58.32,704.23 67.32,704.23" fill="#ea1464"/><polygon points="67.64,712.03 63.14,704.23 72.14,704.23" fill="#ea1464"/><polygon points="82.09,694.25 77.59,686.45 86.59,686.45" fill="#ea1464"/><polygon points="86.91,680.8 82.41,673 91.41,673" fill="#ea1464"/><polygon points="94.13,680.8 89.63,673 98.63,673" fill="#ea1464"/><polygon points="101.36,681.44 96.86,673.64 105.86,673.64" fill="#ea1464"/><polygon points="115.82,682.4 111.32,674.6 120.32,674.6" fill="#ea1464"/><polygon points="123.04,679.19 118.54,671.39 127.54,671.39" fill="#ea1464"/><polygon points="130.27,679.19 125.77,671.39 134.77,671.39" fill="#ea1464"/><polygon points="149.54,674.39 145.04,666.59 154.04,666.59" fill="#ea1464"/><polygon points="164,675.19 159.5,667.39 168.5,667.39" fill="#ea1464"/><polygon points="183.27,645.55 178.77,637.75 187.77,637.75" fill="#ea1464"/><polygon points="202.54,647.96 198.04,640.15 207.04,640.15" fill="#ea1464"/><polygon points="221.81,632.74 217.31,624.94 226.31,624.94" fill="#ea1464"/><polygon points="236.27,629.53 231.77,621.73 240.77,621.73" fill="#ea1464"/><polygon points="255.54,617.68 251.04,609.88 260.04,609.88" fill="#ea1464"/><polygon points="269.99,601.5 265.49,593.7 274.49,593.7" fill="#ea1464"/><polygon points="289.26,604.38 284.76,596.58 293.76,596.58" fill="#ea1464"/><polygon points="303.72,596.69 299.22,588.89 308.22,588.89" fill="#ea1464"/><polygon points="322.99,578.59 318.49,570.79 327.49,570.79" fill="#ea1464"/></g>
<path d="M61.4 520.4 H82.5" stroke="#000000" stroke-width="2.2"/>
<circle cx="71.95" cy="520.4" r="3.9" fill="#000000"/>
<text x="87.5" y="524.4" font-size="11.2">Control</text>
<path d="M61.4 542.3 H82.5" stroke="#14b014" stroke-width="2.2"/>
<rect x="68.05" y="538.4" width="7.8" height="7.8" fill="#14b014"/>
<text x="87.5" y="546.3" font-size="11.2">LBH 589</text>
<path d="M61.4 564.8 H82.5" stroke="#6414ee" stroke-width="2.2"/>
<polygon points="71.95,559.96 67.45,567.76 76.45,567.76" fill="#6414ee"/>
<text x="87.5" y="568.8" font-size="11.2">BKM 120</text>
<path d="M61.4 586.7 H82.5" stroke="#ea1464" stroke-width="2.2"/>
<polygon points="71.95,591.54 67.45,583.74 76.45,583.74" fill="#ea1464"/>
<text x="87.5" y="590.7" font-size="11.2">LBH 589+BKM 120</text>
</svg>
</body></html>
